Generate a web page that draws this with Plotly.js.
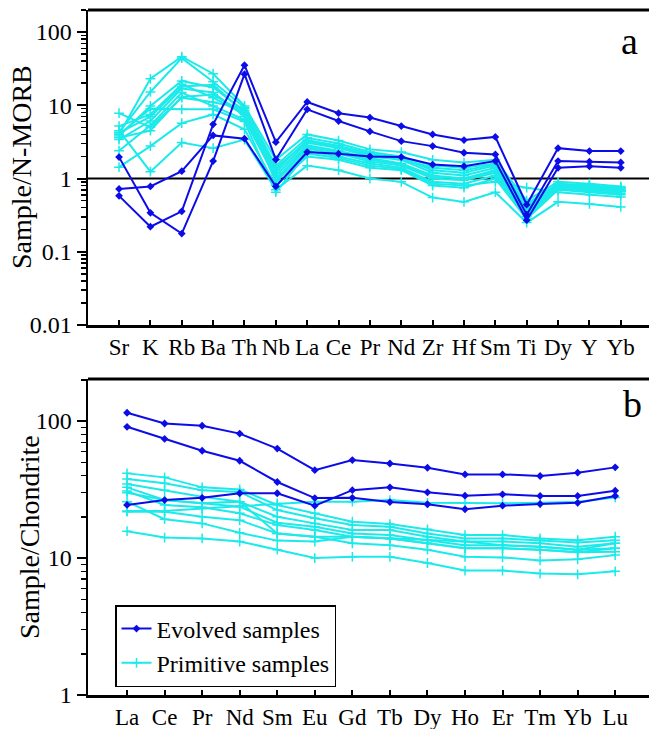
<!DOCTYPE html>
<html><head><meta charset="utf-8">
<script src="https://cdn.plot.ly/plotly-3.0.1.min.js"></script>
<style>html,body{margin:0;padding:0;background:#fff}</style>
</head><body><div id="chart" style="width:649px;height:729px"></div>
<script>
// ---- Panel a: N-MORB normalised spider diagram ----
const spiderElements = ['Sr','K','Rb','Ba','Th','Nb','La','Ce','Pr','Nd','Zr','Hf','Sm','Ti','Dy','Y','Yb'];
const spiderEvolved1 = [0.58, 0.22, 0.357, 5.5, 35.3, 3.14, 11.1, 7.8, 6.8, 5.2, 4.0, 3.35, 3.7, 0.44, 2.6, 2.37, 2.37];
const spiderEvolved2 = [1.96, 0.34, 0.177, 1.73, 26.6, 1.82, 8.8, 6.1, 4.4, 3.24, 2.77, 2.25, 2.13, 0.32, 1.73, 1.7, 1.66];
const spiderEvolved3 = [0.72, 0.78, 1.26, 3.88, 3.5, 0.78, 2.3, 2.18, 2.0, 1.96, 1.55, 1.47, 1.73, 0.27, 1.4, 1.47, 1.4];
const spiderPrim1  = [4.0, 23, 46, 27, 9.8, 1.8, 4.0, 3.3, 2.5, 2.3, 1.8, 1.65, 1.8, 0.5, 0.9, 0.85, 0.78];
const spiderPrim2  = [4.3, 15.2, 44, 21, 9.3, 1.5, 3.6, 3.0, 2.3, 2.0, 1.5, 1.4, 1.6, 0.45, 0.85, 0.8, 0.75];
const spiderPrim3  = [3.8, 9.8, 21.5, 17.5, 8.4, 1.3, 3.35, 2.8, 2.2, 1.9, 1.3, 1.2, 1.5, 0.4, 0.82, 0.78, 0.72];
const spiderPrim4  = [5.2, 7.5, 19.4, 12.7, 7.5, 1.2, 3.08, 2.6, 2.0, 1.8, 1.2, 1.1, 1.4, 0.38, 0.8, 0.75, 0.7];
const spiderPrim5  = [3.4, 6.1, 16.9, 15, 7.1, 1.1, 2.83, 2.4, 1.9, 1.6, 1.1, 1.0, 1.3, 0.35, 0.78, 0.72, 0.68];
const spiderPrim6  = [2.4, 5.3, 14.9, 9.8, 6.4, 1.0, 2.55, 2.2, 1.7, 1.5, 1.0, 0.95, 1.2, 0.33, 0.75, 0.7, 0.66];
const spiderPrim7  = [7.8, 5.0, 12.7, 11, 9.0, 0.9, 2.37, 2.0, 1.6, 1.4, 0.9, 0.85, 1.1, 0.3, 0.72, 0.68, 0.63];
const spiderPrim8  = [1.43, 2.77, 5.7, 7.5, 4.7, 0.8, 2.0, 1.8, 1.4, 1.3, 0.8, 0.75, 1.0, 0.28, 0.7, 0.65, 0.6];
const spiderPrim9  = [4.5, 1.24, 3.1, 2.6, 3.4, 0.7, 1.5, 1.3, 1.0, 0.9, 0.55, 0.48, 0.65, 0.25, 0.48, 0.45, 0.41];
const spiderPrim10 = [4.0, 9.0, 8.8, 8.8, 6.0, 0.65, 2.2, 1.9, 1.5, 1.35, 0.85, 0.8, 0.9, 0.75, 0.65, 0.6, 0.56];
const spiderPrim11 = [4.2, 7.0, 18, 19, 8.0, 1.4, 3.2, 2.7, 2.1, 1.85, 1.4, 1.3, 1.55, 0.42, 0.84, 0.8, 0.74];
const spiderPrim12 = [3.6, 4.5, 13, 14, 7.8, 0.95, 2.7, 2.3, 1.8, 1.55, 1.05, 1.0, 1.25, 0.32, 0.77, 0.72, 0.67];

// ---- Panel b: chondrite normalised REE ----
const reeElements = ['La','Ce','Pr','Nd','Sm','Eu','Gd','Tb','Dy','Ho','Er','Tm','Yb','Lu'];
const reeEvolved1 = [115, 96, 92.4, 81, 63, 43.8, 51.9, 49, 45.6, 40.8, 40.8, 39.7, 42, 45.9];
const reeEvolved2 = [90.8, 74, 60.7, 51.3, 35.9, 27.4, 27.5, 25.6, 24.7, 22.7, 24.1, 24.8, 25.3, 28.4];
const reeEvolved3 = [24.4, 26.5, 27.5, 29.7, 29.7, 24.1, 31.3, 32.8, 30.2, 28.5, 29.2, 28.4, 28.4, 31];
const reePrim1  = [41.5, 38.8, 32.8, 31.7, 24.4, 21.2, 18.4, 17.7, 16.2, 14.7, 14.7, 13.9, 13.5, 14.3];
const reePrim2  = [37.7, 35.1, 31.3, 30.4, 22.4, 19.5, 17.4, 16.9, 15.1, 13.9, 13.9, 13.4, 13.0, 13.5];
const reePrim3  = [34.7, 31.3, 28.0, 25.8, 20.0, 17.9, 16.0, 16.0, 14.3, 13.2, 13.2, 12.8, 12.1, 12.8];
const reePrim4  = [32.8, 26.5, 25.1, 23.7, 18.1, 16.9, 15.1, 14.7, 13.5, 12.4, 12.4, 12.1, 11.5, 11.8];
const reePrim5  = [30.8, 24.4, 23.5, 21.2, 17.4, 16.0, 14.3, 13.9, 12.8, 11.8, 11.8, 11.5, 11.0, 11.1];
const reePrim6  = [30.0, 26.5, 25.1, 25.8, 15.1, 14.3, 12.8, 12.4, 11.5, 10.2, 10.1, 9.6, 9.8, 10.5];
const reePrim7  = [22.0, 22.0, 23.0, 24.0, 25.0, 25.8, 25.8, 26.5, 25.3, 25.1, 25.1, 25.3, 25.8, 27.7];
const reePrim8  = [25.8, 19.2, 17.9, 15.3, 13.4, 13.2, 14.3, 13.9, 13.5, 13.2, 12.4, 12.1, 11.5, 12.8];
const reePrim9  = [21.8, 21.8, 20.0, 18.9, 15.1, 14.3, 14.3, 13.9, 12.8, 11.8, 11.8, 11.5, 11.0, 11.8];
const reePrim10 = [15.7, 14.1, 13.9, 13.2, 11.5, 10.0, 10.2, 10.2, 9.2, 8.1, 8.1, 7.7, 7.6, 8.0];

const spiderEvolved = [spiderEvolved1, spiderEvolved2, spiderEvolved3];
const spiderPrimitive = [spiderPrim1, spiderPrim2, spiderPrim3, spiderPrim4, spiderPrim5, spiderPrim6,
  spiderPrim7, spiderPrim8, spiderPrim9, spiderPrim10, spiderPrim11, spiderPrim12];
const reeEvolved = [reeEvolved1, reeEvolved2, reeEvolved3];
const reePrimitive = [reePrim1, reePrim2, reePrim3, reePrim4, reePrim5, reePrim6, reePrim7, reePrim8, reePrim9, reePrim10];

const evolvedColor = '#0C0CE8';
const primitiveColor = '#1CEAEA';
const FONT = 'Liberation Serif, Times New Roman, Liberation Sans, Arial, sans-serif';

const traces = [];
function addPrim(cats, arrs, xa, ya, legendFirst) {
  arrs.forEach((v, i) => traces.push({
    type: 'scatter', mode: 'lines+markers', x: cats, y: v, xaxis: xa, yaxis: ya,
    name: 'Primitive samples', legendgroup: 'prim', legendrank: 2,
    showlegend: legendFirst && i === 0,
    line: {color: primitiveColor, width: 2},
    marker: {symbol: 'cross-thin', size: 7, line: {color: primitiveColor, width: 1.5}, color: primitiveColor}
  }));
}
function addEvo(cats, arrs, xa, ya, legendFirst) {
  arrs.forEach((v, i) => traces.push({
    type: 'scatter', mode: 'lines+markers', x: cats, y: v, xaxis: xa, yaxis: ya,
    name: 'Evolved samples', legendgroup: 'evo', legendrank: 1,
    showlegend: legendFirst && i === 0,
    line: {color: evolvedColor, width: 2},
    marker: {symbol: 'diamond', size: 6, color: evolvedColor}
  }));
}
addPrim(spiderElements, spiderPrimitive, 'x', 'y', false);
addEvo(spiderElements, spiderEvolved, 'x', 'y', false);
addPrim(reeElements, reePrimitive, 'x2', 'y2', true);
addEvo(reeElements, reeEvolved, 'x2', 'y2', true);

function minorVals(lo, hi) {
  const out = [];
  for (let e = lo; e < hi; e++) for (let d = 2; d <= 9; d++) out.push(d * Math.pow(10, e));
  return out;
}

const W = 649, H = 729;
const xDom = [88 / W, 1];
const yDomA = [1 - 325 / H, 1 - 10 / H];
const yDomB = [1 - 695 / H, 1 - 379 / H];

const axisCommon = {showline: true, linecolor: '#000', linewidth: 2.5, showgrid: false, zeroline: false,
  tickcolor: '#000', tickangle: 0};

const layout = {
  width: W, height: H, margin: {l: 0, r: 0, t: 0, b: 0},
  paper_bgcolor: '#fff', plot_bgcolor: '#fff',
  font: {family: FONT, color: '#000'},
  showlegend: true,
  xaxis: Object.assign({}, axisCommon, {domain: xDom, anchor: 'y', type: 'category',
    categoryorder: 'array', categoryarray: spiderElements, range: [-0.99, 16.9],
    ticks: 'inside', ticklen: 5, tickwidth: 2, tickfont: {family: FONT, size: 23, color: '#000'}}),
  yaxis: Object.assign({}, axisCommon, {domain: yDomA, anchor: 'x', type: 'log', range: [-2, 2.301],
    tickmode: 'array', tickvals: [0.01, 0.1, 1, 10, 100], ticktext: ['0.01', '0.1', '1', '10', '100'],
    ticks: 'outside', ticklen: 9, tickwidth: 2, tickfont: {family: FONT, size: 24, color: '#000'},
    minor: {tickmode: 'array', tickvals: minorVals(-2, 2).concat([200]), ticks: 'outside', ticklen: 5, tickwidth: 1.5, tickcolor: '#000'}}),
  xaxis2: Object.assign({}, axisCommon, {domain: xDom, anchor: 'y2', type: 'category',
    categoryorder: 'array', categoryarray: reeElements, range: [-1.04, 13.9],
    ticks: 'inside', ticklen: 5, tickwidth: 2, tickfont: {family: FONT, size: 23, color: '#000'}}),
  yaxis2: Object.assign({}, axisCommon, {domain: yDomB, anchor: 'x2', type: 'log', range: [0, 2.307],
    tickmode: 'array', tickvals: [1, 10, 100], ticktext: ['1', '10', '100'],
    ticks: 'outside', ticklen: 9, tickwidth: 2, tickfont: {family: FONT, size: 24, color: '#000'},
    minor: {tickmode: 'array', tickvals: minorVals(0, 2).concat([200]), ticks: 'outside', ticklen: 5, tickwidth: 1.5, tickcolor: '#000'}}),
  legend: {x: 115 / W, y: 1 - 605 / H, xanchor: 'left', yanchor: 'top',
    bgcolor: '#fff', bordercolor: '#000', borderwidth: 1.5,
    font: {family: FONT, size: 24, color: '#000'}, itemwidth: 30, tracegroupgap: 0},
  shapes: [
    {type: 'line', xref: 'paper', yref: 'paper', x0: xDom[0], x1: 1, y0: yDomA[1], y1: yDomA[1], line: {color: '#000', width: 3}},
    {type: 'line', xref: 'paper', yref: 'paper', x0: xDom[0], x1: 1, y0: yDomB[1], y1: yDomB[1], line: {color: '#000', width: 3}},
    {type: 'line', xref: 'x domain', yref: 'y', x0: 0, x1: 1, y0: 1, y1: 1, layer: 'below', line: {color: '#000', width: 2}}
  ],
  annotations: [
    {text: 'Sample/N-MORB', xref: 'paper', yref: 'paper', x: 21 / W, y: 1 - 167 / H, textangle: -90,
      showarrow: false, xanchor: 'center', yanchor: 'middle', font: {family: FONT, size: 28, color: '#000'}},
    {text: 'Sample/Chondrite', xref: 'paper', yref: 'paper', x: 29 / W, y: 1 - 537 / H, textangle: -90,
      showarrow: false, xanchor: 'center', yanchor: 'middle', font: {family: FONT, size: 28, color: '#000'}},
    {text: 'a', xref: 'paper', yref: 'paper', x: 629 / W, y: 1 - 41 / H, showarrow: false,
      xanchor: 'center', yanchor: 'middle', font: {family: FONT, size: 38, color: '#000'}},
    {text: 'b', xref: 'paper', yref: 'paper', x: 632 / W, y: 1 - 404 / H, showarrow: false,
      xanchor: 'center', yanchor: 'middle', font: {family: FONT, size: 38, color: '#000'}}
  ]
};

Plotly.newPlot('chart', traces, layout, {displayModeBar: false, staticPlot: true});
</script>
</body></html>
